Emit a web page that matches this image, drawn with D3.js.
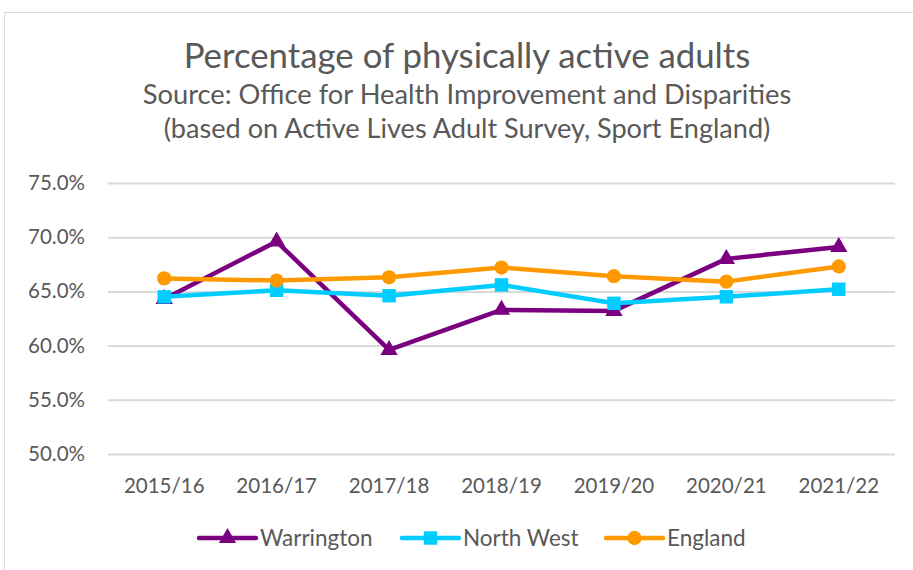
<!DOCTYPE html>
<html><head><meta charset="utf-8">
<script src="https://cdn.jsdelivr.net/npm/d3@7/dist/d3.min.js"></script>
<style>body{margin:0;background:#fff;} svg{display:block;}</style>
</head><body><svg id="c" width="913" height="570"></svg>
<script>
const categories = ["2015/16","2016/17","2017/18","2018/19","2019/20","2020/21","2021/22"];
const warrington = [64.3, 69.6, 59.6, 63.3, 63.2, 68.0, 69.1];
const northWest = [64.5, 65.1, 64.6, 65.6, 63.9, 64.5, 65.2];
const england = [66.2, 66.0, 66.3, 67.2, 66.4, 65.9, 67.3];
const yTicks = [50, 55, 60, 65, 70, 75];
const titleLines = ["Percentage of physically active adults",
  "Source: Office for Health Improvement and Disparities",
  "(based on Active Lives Adult Survey, Sport England)"];
const seriesNames = ["Warrington","North West","England"];

const series = [
  {name: seriesNames[0], values: warrington, color: "#7B0080", symbol: d3.symbolTriangle, size: 130},
  {name: seriesNames[1], values: northWest, color: "#00CCFF", symbol: d3.symbolSquare, size: 180},
  {name: seriesNames[2], values: england, color: "#FF9900", symbol: d3.symbolCircle, size: 160}
];

const svg = d3.select("#c");
const font = "Lato, 'Open Sans', sans-serif";
svg.append("rect").attr("x",4.5).attr("y",12.5).attr("width",920).attr("height",570)
  .attr("fill","#fff").attr("stroke","#d9d9d9").attr("stroke-width",1);

const x = d3.scaleBand().domain(categories).range([108, 895]);
const y = d3.scaleLinear().domain([50, 75]).range([454, 183]);

// title
const tsizes = [34.8, 27.3, 27.1];
const tys = [68, 104, 138];
titleLines.forEach((t,i)=>{
  svg.append("text").attr("x",467).attr("y",tys[i]).attr("text-anchor","middle")
    .attr("font-family",font).attr("font-size",tsizes[i]).attr("fill","#595959").text(t);
});

// grid
const yAxis = d3.axisLeft(y).tickValues(yTicks).tickSize(-(895-108)).tickFormat(d=>d.toFixed(1)+"%");
const gy = svg.append("g").attr("transform","translate(108,0)").call(yAxis);
gy.select(".domain").remove();
gy.selectAll(".tick line").attr("stroke","#d9d9d9").attr("stroke-width",2);
gy.selectAll(".tick text").attr("x",-23).attr("font-family",font).attr("font-size",20.5).attr("fill","#595959");

const xAxis = d3.axisBottom(x).tickSize(0);
const gx = svg.append("g").attr("transform","translate(0,454)").call(xAxis);
gx.select(".domain").remove();
gx.selectAll(".tick text").attr("dy",0).attr("y",39).attr("font-family",font).attr("font-size",20.5).attr("fill","#595959");

const line = d3.line().x((d,i)=>x(categories[i])+x.bandwidth()/2).y(d=>y(d));
series.forEach(s=>{
  svg.append("path").datum(s.values).attr("d",line).attr("fill","none")
    .attr("stroke",s.color).attr("stroke-width",4.5).attr("stroke-linejoin","round");
  svg.selectAll(null).data(s.values).enter().append("path")
    .attr("d", d3.symbol().type(s.symbol).size(s.size))
    .attr("transform",(d,i)=>`translate(${x(categories[i])+x.bandwidth()/2},${y(d)})`)
    .attr("fill",s.color);
});

// legend
const legX = [199, 402, 606];
series.forEach((s,i)=>{
  const g = svg.append("g").attr("transform",`translate(${legX[i]},538)`);
  g.append("line").attr("x1",0).attr("x2",57).attr("y1",0).attr("y2",0)
    .attr("stroke",s.color).attr("stroke-width",4.5).attr("stroke-linecap","round");
  g.append("path").attr("d",d3.symbol().type(s.symbol).size(s.size)).attr("transform","translate(28.5,0)").attr("fill",s.color);
  g.append("text").attr("x",61).attr("y",8).attr("font-family",font).attr("font-size",22.5).attr("fill","#595959").text(s.name);
});
</script></body></html>
